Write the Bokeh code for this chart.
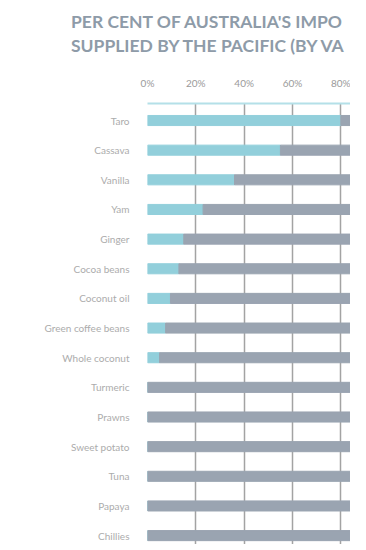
from bokeh.plotting import figure
from bokeh.models import Range1d, FixedTicker, PrintfTickFormatter, Div
from bokeh.layouts import column
from bokeh.embed import file_html
from bokeh.resources import INLINE

# ---- data ----
products = ["Taro", "Cassava", "Vanilla", "Yam", "Ginger", "Cocoa beans",
            "Coconut oil", "Green coffee beans", "Whole coconut", "Turmeric",
            "Prawns", "Sweet potato", "Tuna", "Papaya", "Chillies"]
pacific_share = [80, 55, 36, 23, 15, 13, 9.5, 7.5, 5, 0, 0, 0, 0, 0, 0]
total = [100] * len(products)
x_ticks = [0, 20, 40, 60, 80]
grid_ticks = [20, 40, 60, 80]
# title as it is visible in the (cropped) reference
title_lines = ["PER CENT OF AUSTRALIA'S IMPO", "SUPPLIED BY THE PACIFIC (BY VA"]

BLUE = "#92cfdb"
GREY = "#9aa4b1"
TEXT = "#acacac"

rows = list(range(len(products)))

title = Div(
    text="<br>".join(title_lines),
    width=350, height=56,
    styles={
        "font-family": "Lato", "font-weight": "bold", "font-size": "17.5px",
        "line-height": "24px", "color": "#8e9ba8", "white-space": "nowrap",
        "padding-left": "66px", "padding-top": "5px",
        "box-sizing": "border-box",
    },
)

p = figure(width=350, height=478, output_backend="svg", toolbar_location=None,
           x_range=Range1d(0, 84), y_range=Range1d(14.30, -0.574),
           x_axis_location="above", min_border_left=147, min_border_right=0,
           min_border_top=37, min_border_bottom=0)

p.hbar(y=rows, left=0, right=pacific_share, height=0.34, color=BLUE)
p.hbar(y=rows, left=pacific_share, right=total, height=0.34, color=GREY)

p.outline_line_color = None
p.background_fill_color = "white"
p.border_fill_color = "white"

xa = p.xaxis[0]
xa.ticker = FixedTicker(ticks=x_ticks)
xa.formatter = PrintfTickFormatter(format="%d%%")
xa.axis_line_color = "#b4e0e8"
xa.axis_line_width = 2
xa.major_tick_line_color = None
xa.minor_tick_line_color = None
xa.major_label_text_color = "#9a9a9a"
xa.major_label_text_font = "Lato"
xa.major_label_text_font_size = "10px"
xa.major_label_standoff = 9

ya = p.yaxis[0]
ya.ticker = FixedTicker(ticks=rows)
ya.major_label_overrides = {i: name for i, name in enumerate(products)}
ya.axis_line_color = None
ya.major_tick_line_color = None
ya.minor_tick_line_color = None
ya.major_label_text_color = TEXT
ya.major_label_text_font = "Lato"
ya.major_label_text_font_size = "10px"
ya.major_label_standoff = 12

p.xgrid.ticker = FixedTicker(ticks=grid_ticks)
p.xgrid.grid_line_color = "#a3a3a3"
p.xgrid.grid_line_width = 1.5
p.ygrid.grid_line_color = None

layout = column(title, p, spacing=0)
open("out.html", "w").write(file_html(layout, INLINE))
